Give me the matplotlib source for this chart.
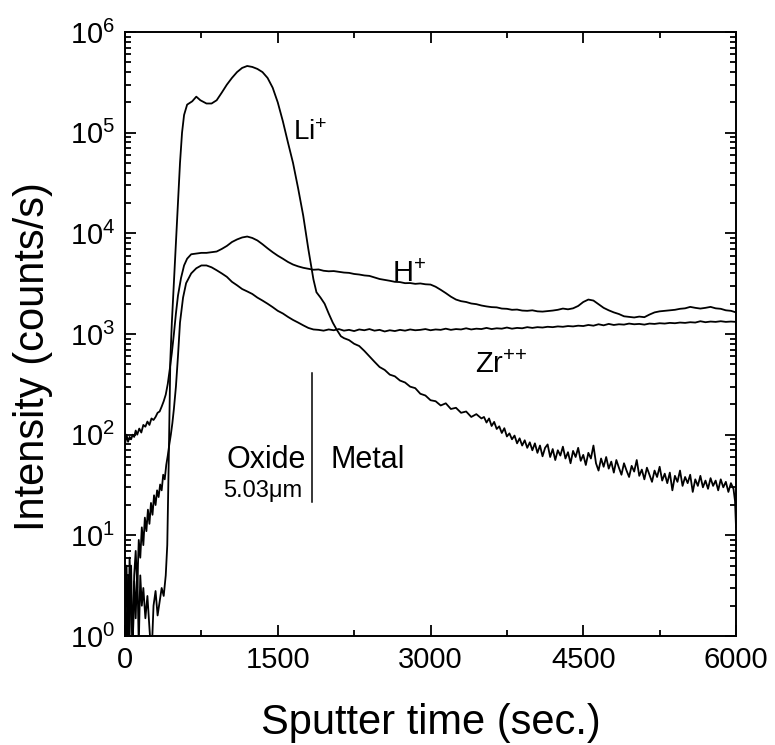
import matplotlib
matplotlib.use("Agg")
import matplotlib.pyplot as plt
from matplotlib.ticker import LogLocator, NullFormatter, MultipleLocator

plt.rcParams['font.family'] = ['Liberation Sans', 'DejaVu Sans']
plt.rcParams['mathtext.fontset'] = 'custom'
plt.rcParams['mathtext.rm'] = 'Liberation Sans'
plt.rcParams['mathtext.it'] = 'Liberation Sans:italic'
plt.rcParams['mathtext.bf'] = 'Liberation Sans:bold'

# ---- Li+ ----
li_t_head = [0, 15, 30, 45, 60, 75, 90, 105, 120, 135, 150, 165, 180, 200, 220, 240, 260, 280, 300, 320,
             340, 360, 380, 400, 415, 430, 445, 460, 480, 500, 520, 540, 560, 580, 610, 660, 700, 740, 800,
             850, 900, 950, 1000, 1050, 1100, 1150, 1200, 1250, 1300, 1350, 1400, 1450, 1500, 1550, 1600,
             1650, 1700, 1750, 1800, 1850, 1880, 1920, 1960, 2000, 2040, 2080, 2120]
li_i_head = [3, 0.6, 4, 1, 5, 0.7, 3.5, 1.5, 5, 0.8, 4, 2, 3, 1.5, 2.5, 1.2, 0.6, 2, 2.8, 1.6,
             2.2, 3, 2.5, 4, 8, 60, 550, 1300, 3200, 8000, 20000, 50000, 100000, 150000, 190000, 205000,
             228000, 210000, 195000, 195000, 210000, 250000, 300000, 350000, 400000, 440000, 460000, 450000,
             430000, 400000, 350000, 280000, 200000, 130000, 80000, 50000, 28000, 15000, 7000, 3500, 2600,
             2300, 2000, 1600, 1300, 1100, 950]
li_t_mid = list(range(2150, 3501, 50))
li_i_mid = [910, 870, 800, 760, 680, 600, 530, 470, 440, 395, 380, 345, 330, 300, 290, 255, 245, 220, 215,
            195, 205, 180, 185, 165, 170, 150, 160, 145]
li_t_tail = list(range(3525, 6000, 25)) + [5990, 6000]
li_i_tail = [150, 132, 145, 122, 134, 114, 121, 104, 116, 96,
             103, 90, 98, 82, 92, 78, 88, 74, 84, 70,
             82, 66, 78, 61, 74, 80, 60, 72, 56, 70,
             62, 76, 58, 67, 52, 69, 60, 74, 55, 63,
             50, 66, 58, 78, 52, 44, 58, 48, 60, 46,
             54, 42, 56, 47, 40, 52, 44, 38, 49, 43,
             56, 39, 45, 36, 47, 40, 34, 44, 38, 48,
             35, 41, 33, 42, 28, 39, 34, 44, 31, 38,
             33, 40, 27, 36, 31, 39, 30, 35, 29, 37,
             31, 35, 28, 36, 30, 34, 27, 33, 29, 22, 12]

# ---- H+ ----
h_t_head = [0, 15, 30, 45, 60, 75, 90, 105, 120, 140, 160, 180, 200, 220, 240, 260, 280, 300, 320, 340,
            360, 380, 400, 420, 440, 460, 480, 500, 520, 550, 580, 610,
            650, 700, 750, 800, 850, 900, 950, 1000, 1050, 1100, 1150, 1200, 1250, 1300, 1350, 1400,
            1450, 1500, 1550, 1600, 1650]
h_i_head = [80, 100, 85, 95, 90, 100, 95, 110, 100, 115, 105, 125, 120, 135, 125, 145, 140, 150, 165, 170,
            190, 215, 250, 320, 450, 650, 1000, 1600, 2400, 3600, 4800, 5600,
            6200, 6300, 6400, 6400, 6500, 6600, 7000, 7500, 8200, 8700, 9100, 9300, 9000, 8500, 7800, 7100,
            6500, 6000, 5600, 5200, 4900]
h_t_tail = list(range(1700, 6001, 50))
h_i_tail = [4700, 4550, 4450, 4350, 4380, 4250, 4200, 4220, 4150, 4080, 4050, 3950, 3900, 3820, 3780, 3650,
            3520, 3450, 3380, 3300, 3280, 3200, 3210, 3150, 3180, 3120, 3100, 2950, 2750, 2550, 2350, 2200,
            2120, 2080, 2010, 1980, 1920, 1880, 1850, 1840, 1790, 1780, 1740, 1750, 1710, 1700, 1720, 1680,
            1670, 1690, 1710, 1740, 1790, 1760, 1800, 1900, 2080, 2200, 2150, 1980, 1820, 1720, 1640, 1580,
            1500, 1480, 1460, 1490, 1470, 1560, 1640, 1680, 1700, 1720, 1740, 1780, 1800, 1860, 1820, 1790,
            1820, 1860, 1800, 1780, 1720, 1700, 1640]

# ---- Zr++ ----
zr_t_head = [0, 15, 30, 45, 60, 75, 90, 105, 120, 135, 150, 165, 180, 195, 210, 225, 240, 255, 270, 285,
             300, 315, 330, 345, 360, 375, 390, 405, 420, 435, 450, 465, 480, 500, 520, 540, 570, 600, 650,
             700, 750, 800, 850, 900, 950, 1000, 1050, 1100, 1150, 1200, 1250, 1300, 1350, 1400, 1450, 1500,
             1550, 1600, 1650, 1700, 1750, 1800, 1850]
zr_i_head = [1.5, 5, 0.6, 6, 2, 0.7, 4, 7, 3, 9, 6, 12, 8, 15, 11, 18, 13, 21, 16, 25,
             20, 28, 24, 32, 28, 40, 36, 50, 62, 80, 100, 130, 180, 300, 600, 1300, 2300, 3200, 4000,
             4500, 4800, 4800, 4600, 4300, 4000, 3700, 3300, 3050, 2800, 2650, 2500, 2300, 2150, 2000, 1850,
             1700, 1600, 1480, 1380, 1300, 1220, 1150, 1110]
zr_t_tail = list(range(1900, 6001, 50))
zr_i_tail = [1100, 1080, 1110, 1090, 1120, 1080, 1100, 1070, 1110, 1090, 1120, 1080, 1100, 1060, 1090, 1070,
             1100, 1080, 1110, 1090, 1100, 1120, 1090, 1110, 1100, 1130, 1100, 1120, 1110, 1140, 1110, 1130,
             1120, 1150, 1120, 1140, 1130, 1160, 1130, 1150, 1140, 1170, 1150, 1170, 1160, 1180, 1170, 1190,
             1180, 1200, 1190, 1210, 1200, 1230, 1210, 1250, 1220, 1260, 1230, 1250, 1240, 1270, 1250, 1260,
             1240, 1270, 1260, 1280, 1270, 1290, 1280, 1300, 1290, 1310, 1300, 1340, 1310, 1330, 1320, 1340,
             1320, 1330, 1320]

li_t = li_t_head + li_t_mid + li_t_tail
li_i = li_i_head + li_i_mid + li_i_tail
h_t = h_t_head + h_t_tail
h_i = h_i_head + h_i_tail
zr_t = zr_t_head + zr_t_tail
zr_i = zr_i_head + zr_i_tail

fig = plt.figure(figsize=(7.75, 7.45), dpi=100)
ax = fig.add_axes([0.1613, 0.1463, 0.7884, 0.8107])

for t, v in ((li_t, li_i), (h_t, h_i), (zr_t, zr_i)):
    ax.plot(t, v, color='black', lw=1.3)

ax.set_yscale('log')
ax.set_xlim(0, 6000)
ax.set_ylim(1, 1e6)
ax.xaxis.set_major_locator(MultipleLocator(1500))
ax.xaxis.set_minor_locator(MultipleLocator(750))
ax.yaxis.set_major_locator(LogLocator(base=10, numticks=10))
ax.yaxis.set_minor_locator(LogLocator(base=10, subs=range(2, 10), numticks=20))
ax.yaxis.set_minor_formatter(NullFormatter())
ax.tick_params(which='both', direction='in', top=True, right=True, width=1.3)
ax.tick_params(which='major', length=8, labelsize=21, pad=7)
ax.tick_params(which='minor', length=4.5)
for s in ax.spines.values():
    s.set_linewidth(1.4)

ax.set_xlabel('Sputter time (sec.)', fontsize=30, labelpad=21)
ax.set_ylabel('Intensity (counts/s)', fontsize=30)
ax.yaxis.set_label_coords(-0.118, 0.462)

# annotations
ax.text(1650, 85000, r'Li$^{+}$', fontsize=20)
ax.text(2622, 3300, r'H$^{+}$', fontsize=21)
ax.text(3437, 410, r'Zr$^{{+}{+}}$', fontsize=21)
ax.plot([1836, 1836], [21.5, 411], color='black', lw=1.1)
ax.text(1777, 47, 'Oxide', fontsize=22, ha='right')
ax.text(2013, 47, 'Metal', fontsize=22, ha='left')
ax.text(1740, 24, '5.03\u03bcm', fontsize=17, ha='right')

fig.savefig('out.png', dpi=100)
